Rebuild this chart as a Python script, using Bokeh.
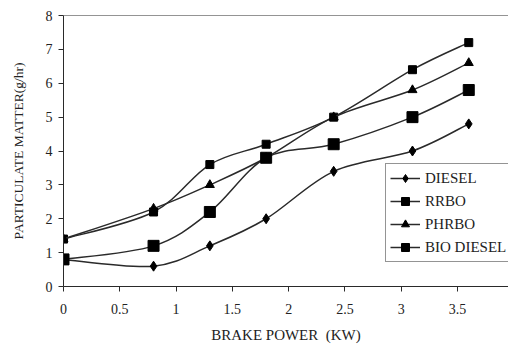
from bokeh.plotting import figure
from bokeh.models import Range1d, FixedTicker, Span, Legend, LegendItem, ColumnDataSource
from bokeh.embed import file_html
from bokeh.resources import INLINE

power = [0, 0.8, 1.3, 1.8, 2.4, 3.1, 3.6]
diesel = [0.8, 0.6, 1.2, 2.0, 3.4, 4.0, 4.8]
rrbo = [1.4, 2.2, 3.6, 4.2, 5.0, 6.4, 7.2]
phrbo = [1.4, 2.3, 3.0, 3.8, 5.0, 5.8, 6.6]
bio_diesel = [0.8, 1.2, 2.2, 3.8, 4.2, 5.0, 5.8]
series_names = ["DIESEL", "RRBO", "PHRBO", "BIO DIESEL"]
x_ticks = [0, 0.5, 1, 1.5, 2, 2.5, 3, 3.5, 4]
x_tick_labels = ["0", "0.5", "1", "1.5", "2", "2.5", "3", "3.5", "4"]
y_ticks = [0, 1, 2, 3, 4, 5, 6, 7, 8]
x_title = "BRAKE POWER\u00a0 (KW)"
y_title = "PARTICULATE MATTER(g/hr)"

FONT = "Liberation Serif"
INK = "#222222"
LINE = "#2a2a2a"


def smooth_source(xs, ys):
    # Catmull-Rom style control points (like spreadsheet "smoothed line")
    n = len(xs)
    d = dict(x0=[], y0=[], x1=[], y1=[], cx0=[], cy0=[], cx1=[], cy1=[])
    for i in range(n - 1):
        p0 = (xs[max(i - 1, 0)], ys[max(i - 1, 0)])
        p1 = (xs[i], ys[i])
        p2 = (xs[i + 1], ys[i + 1])
        p3 = (xs[min(i + 2, n - 1)], ys[min(i + 2, n - 1)])
        d["x0"].append(p1[0]); d["y0"].append(p1[1])
        d["x1"].append(p2[0]); d["y1"].append(p2[1])
        d["cx0"].append(p1[0] + (p2[0] - p0[0]) / 6.0)
        d["cy0"].append(p1[1] + (p2[1] - p0[1]) / 6.0)
        d["cx1"].append(p2[0] - (p3[0] - p1[0]) / 6.0)
        d["cy1"].append(p2[1] - (p3[1] - p1[1]) / 6.0)
    return ColumnDataSource(d)


p = figure(width=508, height=345,
           x_range=Range1d(0, 3.953), y_range=Range1d(0, 8),
           output_backend="svg", toolbar_location=None,
           min_border_left=63, min_border_right=0,
           min_border_top=15, min_border_bottom=57)
p.outline_line_color = None
p.xgrid.visible = False
p.ygrid.visible = False
p.background_fill_color = "white"
p.border_fill_color = "white"

for ax in (p.xaxis[0], p.yaxis[0]):
    ax.axis_line_color = LINE
    ax.major_tick_line_color = LINE
    ax.minor_tick_line_color = None
    ax.major_tick_in = 0
    ax.major_tick_out = 5
    ax.major_label_text_font = FONT
    ax.major_label_text_font_size = "14px"
    ax.major_label_text_color = INK
    ax.axis_label_text_font = FONT
    ax.axis_label_text_font_style = "normal"
    ax.axis_label_text_color = INK

p.xaxis.ticker = FixedTicker(ticks=x_ticks)
p.xaxis.major_label_overrides = {t: s for t, s in zip(x_ticks, x_tick_labels)}
p.xaxis.axis_label = x_title
p.xaxis.axis_label_text_font_size = "15px"
p.xaxis.major_label_standoff = 12
p.xaxis.axis_label_standoff = 10

p.yaxis.ticker = FixedTicker(ticks=y_ticks)
p.yaxis.axis_label = y_title
p.yaxis.axis_label_text_font_size = "13.5px"
p.yaxis.major_label_standoff = 6
p.yaxis.axis_label_standoff = 17

p.add_layout(Span(location=8, dimension="width", line_color=LINE, line_width=1.2))

specs = [
    (diesel, "diamond", 10),
    (rrbo, "square", 8),
    (phrbo, "triangle", 9),
    (bio_diesel, "square", 11),
]
items = []
for name, (vals, marker, size) in zip(series_names, specs):
    src = smooth_source(power, vals)
    r_line = p.bezier(x0="x0", y0="y0", x1="x1", y1="y1", cx0="cx0", cy0="cy0",
                      cx1="cx1", cy1="cy1", source=src, line_color=LINE, line_width=1.5)
    r_pts = p.scatter(power, vals, marker=marker, size=size,
                      fill_color="black", line_color="black")
    items.append(LegendItem(label=name, renderers=[r_line, r_pts]))

legend = Legend(items=items, location=(322, 24))
legend.label_text_font = FONT
legend.label_text_font_size = "15px"
legend.label_text_color = INK
legend.glyph_width = 30
legend.glyph_height = 20
legend.label_height = 20
legend.label_standoff = 5
legend.spacing = 3
legend.padding = 4
legend.margin = 0
legend.border_line_color = LINE
legend.border_line_width = 1
legend.background_fill_alpha = 1
p.add_layout(legend, "center")

open("out.html", "w").write(file_html(p, INLINE))
